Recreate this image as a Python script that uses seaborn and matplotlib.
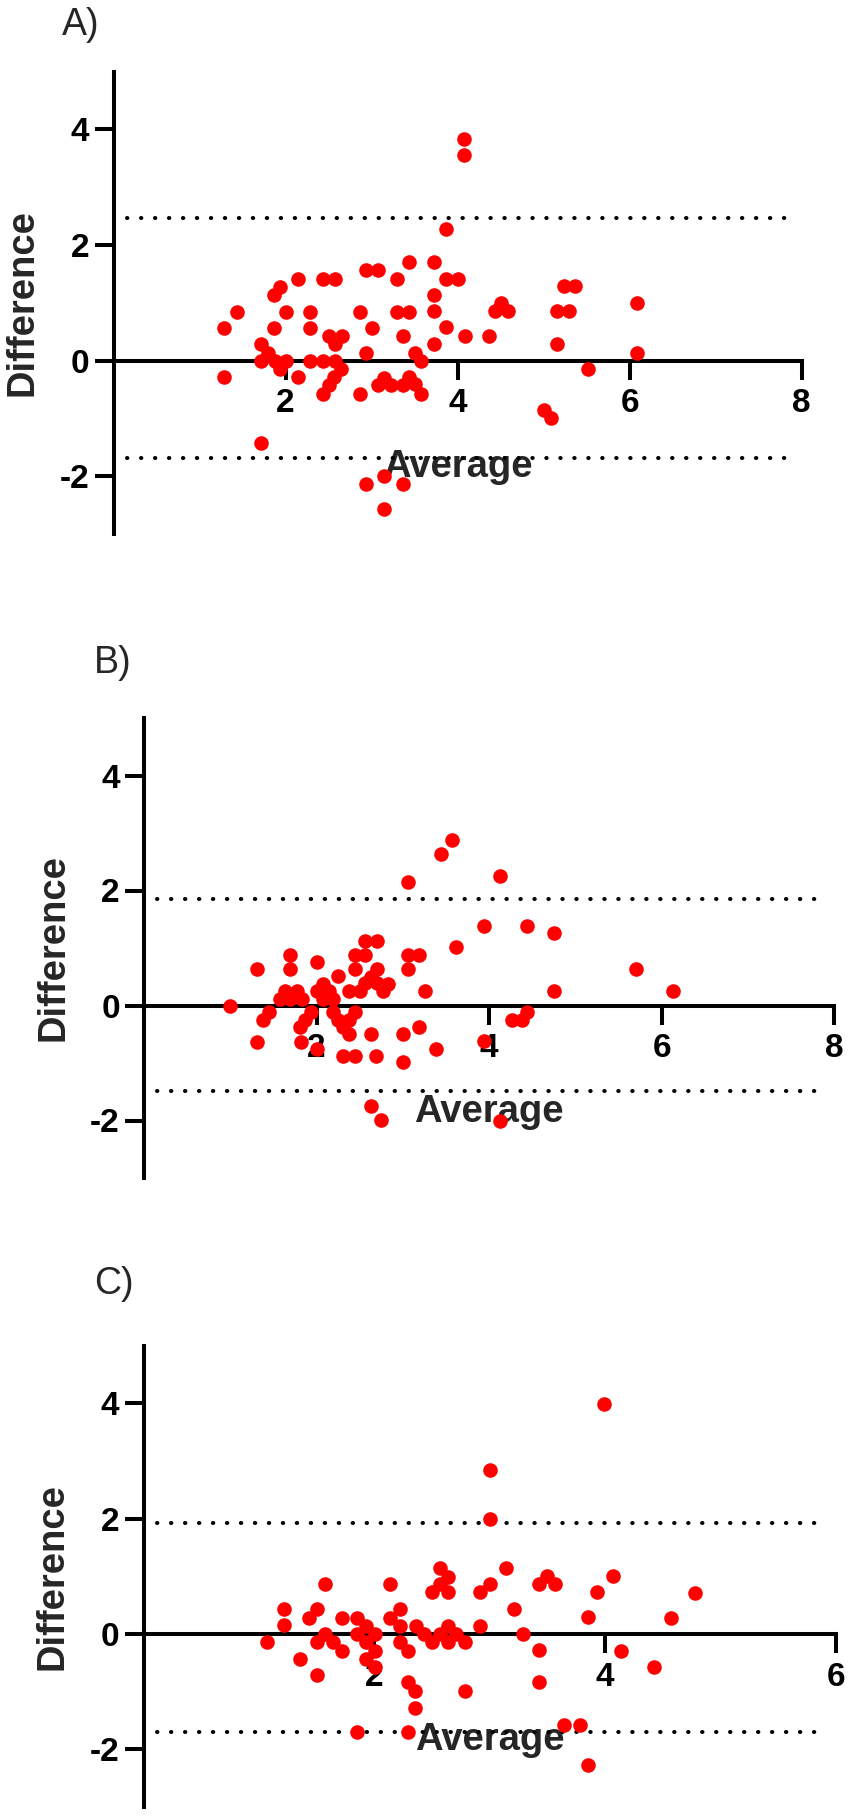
import matplotlib
matplotlib.use("Agg")
import matplotlib.pyplot as plt
import pandas as pd
import seaborn as sns

# ---------------- data ----------------
a_avg = [1.29, 1.43, 1.29, 1.72, 1.72, 1.72, 1.80, 1.88, 1.94, 2.01,
         1.86, 1.86, 1.94, 2.01, 2.15, 2.15, 2.29, 2.29, 2.29, 2.43,
         2.58, 2.43, 2.43, 2.50, 2.56, 2.58, 2.65, 2.51, 2.66, 2.58,
         2.86, 2.86, 2.94, 3.08, 2.94, 3.00, 3.07, 3.22, 3.15, 3.29,
         3.29, 3.44, 3.37, 3.37, 3.44, 3.44, 3.51, 3.58, 3.50, 3.58,
         4.08, 4.08, 3.86, 3.72, 3.86, 4.01, 3.72, 3.72, 3.86, 4.09,
         3.72, 4.37, 4.51, 4.43, 4.59, 5.24, 5.37, 5.15, 5.30, 5.16,
         5.52, 5.01, 5.09, 6.09, 6.09, 2.94, 3.15, 3.37, 3.15]
a_diff = [0.56, 0.85, -0.29, -1.43, 0.29, 0.00, 0.14, 0.00, -0.14, 0.00,
          0.56, 1.14, 1.27, 0.85, 1.42, -0.29, 0.85, 0.56, 0.00, 1.42,
          1.42, 0.00, -0.57, -0.42, -0.29, 0.00, -0.14, 0.42, 0.42, 0.28,
          0.85, -0.57, 1.57, 1.57, 0.14, 0.56, -0.43, -0.43, -0.30, 1.42,
          0.85, 0.85, 0.43, -0.43, -0.28, 1.71, -0.41, -0.57, 0.13, 0.00,
          3.84, 3.55, 2.28, 1.71, 1.42, 1.42, 1.14, 0.86, 0.58, 0.43,
          0.28, 0.43, 1.00, 0.86, 0.86, 1.29, 1.29, 0.86, 0.86, 0.29,
          -0.14, -0.85, -1.00, 1.00, 0.13, -2.13, -1.99, -2.13, -2.57]
a_loa = [2.46, -1.68]

b_avg = [1.00, 1.31, 1.31, 1.38, 1.45, 1.69, 1.69, 1.58, 1.63, 1.69,
         1.77, 1.83, 1.81, 1.87, 1.94, 1.82, 2.01, 2.01, 2.00, 2.07,
         2.07, 2.14, 2.19, 2.25, 2.19, 2.25, 2.31, 2.38, 2.37, 2.44,
         2.31, 2.44, 2.37, 2.44, 2.44, 2.56, 2.56, 2.70, 2.50, 2.56,
         2.63, 2.70, 2.70, 2.77, 2.83, 2.63, 2.69, 2.63, 2.75, 3.06,
         3.19, 3.06, 3.26, 3.06, 3.44, 3.57, 3.62, 3.00, 3.19, 3.00,
         3.38, 4.13, 3.94, 4.44, 4.75, 4.75, 5.70, 6.13, 4.44, 4.26,
         4.38, 3.94, 4.13]
b_diff = [0.00, 0.63, -0.63, -0.25, -0.12, 0.88, 0.63, 0.12, 0.26, 0.12,
          0.26, 0.12, -0.37, -0.25, -0.12, -0.63, 0.75, -0.75, 0.26, 0.37,
          0.12, 0.26, 0.12, 0.51, -0.12, -0.25, -0.37, -0.50, -0.25, -0.12,
          -0.88, -0.88, 0.26, 0.63, 0.88, 0.88, 1.13, 1.13, 0.26, 0.39,
          0.50, 0.63, 0.39, 0.26, 0.37, -0.50, -0.88, -1.74, -1.99, 0.88,
          0.88, 0.63, 0.26, 2.14, 2.63, 2.87, 1.01, -0.50, -0.38, -0.99,
          -0.75, 2.26, 1.38, 1.38, 1.26, 0.25, 0.63, 0.25, -0.12, -0.25,
          -0.25, -0.62, -2.00]
b_loa = [1.86, -1.48]

c_avg = [1.07, 1.22, 1.22, 1.36, 1.43, 1.50, 1.50, 1.50, 1.57, 1.57,
         1.64, 1.72, 1.72, 1.85, 1.85, 1.93, 1.93, 2.01, 2.01, 1.93,
         2.01, 1.85, 2.14, 2.14, 2.22, 2.22, 2.22, 2.29, 2.29, 2.35,
         2.35, 2.29, 2.36, 2.43, 2.50, 2.50, 2.57, 2.57, 2.64, 2.64,
         2.57, 2.64, 2.64, 2.71, 2.79, 2.79, 2.92, 2.92, 3.00, 3.00,
         3.00, 3.99, 3.14, 3.21, 3.29, 3.43, 3.50, 3.57, 3.43, 3.43,
         3.85, 3.93, 4.07, 4.14, 4.42, 4.57, 4.78, 3.64, 3.78, 3.85]
c_diff = [-0.14, 0.43, 0.16, -0.43, 0.28, 0.43, -0.14, -0.72, 0.86, 0.00,
          -0.14, 0.28, -0.29, 0.28, 0.00, 0.14, -0.14, 0.00, -0.29, -0.43,
          -0.58, -1.70, 0.86, 0.28, 0.43, 0.14, -0.14, -0.29, -0.84, -0.99,
          -1.29, -1.70, 0.14, 0.00, -0.14, 0.72, 1.14, 0.86, 0.99, 0.72,
          0.00, 0.14, -0.14, 0.00, -0.14, -0.99, 0.72, 0.14, 0.86, 1.99,
          2.84, 3.99, 1.14, 0.43, 0.00, 0.86, 1.01, 0.86, -0.28, -0.84,
          0.29, 0.72, 1.01, -0.29, -0.57, 0.28, 0.71, -1.57, -1.57, -2.28]
c_loa = [1.92, -1.70]

panel_labels = ["A)", "B)", "C)"]
ab_xticks = [2, 4, 6, 8]
c_xticks = [2, 4, 6]
yticks = [-2, 0, 2, 4]
x_label = "Average"
y_label = "Difference"

# ---------------- style ----------------
sns.set_style("white")
plt.rcParams['font.family'] = ['Liberation Sans', 'DejaVu Sans']

W, H = 851, 1816
fig = plt.figure(figsize=(W / 100, H / 100), dpi=100)

panels = [
    dict(avg=a_avg, diff=a_diff, loa=a_loa, xticks=ab_xticks,
         rect=(113.5, 71.7, 801.7, 534.0), lab=(61.7, 35.0)),
    dict(avg=b_avg, diff=b_diff, loa=b_loa, xticks=ab_xticks,
         rect=(144.0, 718.0, 834.4, 1178.0), lab=(94.3, 673.3)),
    dict(avg=c_avg, diff=c_diff, loa=c_loa, xticks=c_xticks,
         rect=(143.5, 1345.5, 835.9, 1807.0), lab=(94.3, 1294.5)),
]

LW = 2.9
for name, p in zip(panel_labels, panels):
    l, t, r, b = p['rect']
    wpx, hpx = r - l, b - t
    ax = fig.add_axes([l / W, 1 - b / H, wpx / W, hpx / H])
    ax.set_facecolor('none')
    df = pd.DataFrame({x_label: p['avg'], y_label: p['diff']})
    xmax = p['xticks'][-1]
    ax.set_xlim(0, xmax)
    ax.set_ylim(-3, 5)

    frac = 13.0 / wpx
    for v in p['loa']:
        ax.axhline(v, xmin=frac, xmax=1 - frac, color='black', linewidth=LW,
                   linestyle=(0, (0.1, 3.37)), dash_capstyle='round', zorder=2)

    sns.scatterplot(data=df, x=x_label, y=y_label, ax=ax, color='#FF0000',
                    s=110, linewidth=0, zorder=3, clip_on=False, legend=False)
    ax.set_xlim(0, xmax)
    ax.set_ylim(-3, 5)

    for s in ['top', 'right']:
        ax.spines[s].set_visible(False)
    for s in ['left', 'bottom']:
        ax.spines[s].set_linewidth(LW)
        ax.spines[s].set_color('black')
    ax.spines['bottom'].set_position(('data', 0))

    ax.set_xticks(p['xticks'], [str(v) for v in p['xticks']], fontweight='bold')
    ax.set_yticks(yticks, [str(v) for v in yticks], fontweight='bold')
    ax.tick_params(axis='both', direction='out', length=14, width=LW,
                   color='black', labelsize=24, labelcolor='black',
                   bottom=True, left=True, top=False, right=False)
    ax.tick_params(axis='x', pad=6.0)
    ax.tick_params(axis='y', pad=3.4)
    ax.grid(False)

    ax.set_xlabel(x_label, fontsize=27.5, fontweight='bold')
    ax.xaxis.set_label_coords(0.5, 3.0 / 8.0 - 116.0 / hpx)
    ax.xaxis.label.set_va('baseline')
    ax.set_ylabel(y_label, fontsize=27.5, fontweight='bold')
    ax.yaxis.set_label_coords(-91.0 / wpx, 0.5)
    ax.yaxis.label.set_va('center')

    fig.text(p['lab'][0] / W, 1 - p['lab'][1] / H, name, fontsize=27,
             ha='left', va='baseline')

fig.savefig("out.png", dpi=100)
